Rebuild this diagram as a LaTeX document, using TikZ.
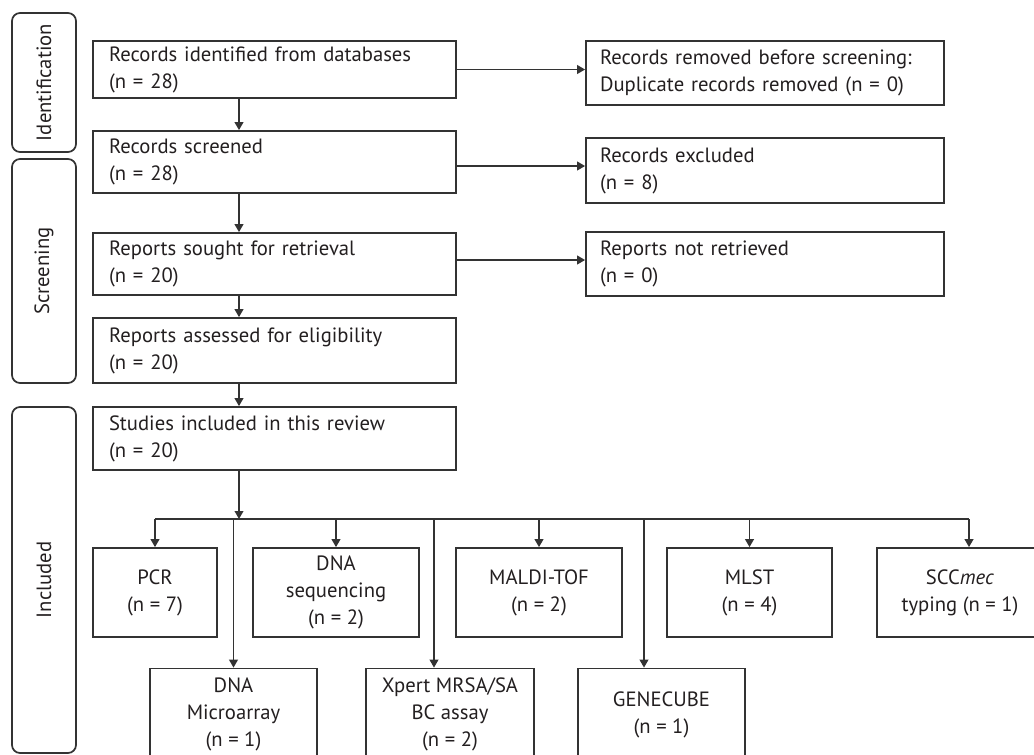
\documentclass[tikz,border=0pt]{standalone}
\usepackage{fontspec}
\setmainfont{PT Sans}
\definecolor{prismaline}{HTML}{333333}
\definecolor{prismatext}{HTML}{231F20}
\usetikzlibrary{arrows.meta}
\newdimen\pxu
\pxu=0.75pt
\tikzset{
    prismabox/.style={
        draw=prismaline,
        line width=1.3pt,
        text=prismatext,
        align=left,
        text width=331\pxu,
        inner xsep=16\pxu,
        inner ysep=0pt,
        font=\fontsize{15.5}{20.3}\selectfont
    },
    prismaexcluded/.style={
        prismabox,
        text width=330\pxu,
        inner xsep=14\pxu
    },
    prismamethod/.style={
        draw=prismaline,
        line width=1.3pt,
        text=prismatext,
        align=center,
        inner sep=0pt,
        minimum height=89\pxu,
        font=\fontsize{15.5}{20.3}\selectfont
    },
    prismaphase/.style={
        draw=prismaline,
        line width=1.3pt,
        text=prismatext,
        rounded corners=8\pxu,
        rotate=90,
        inner sep=0pt,
        minimum height=64\pxu,
        font=\fontsize{15.5}{20.3}\selectfont
    },
    prismaarrow/.style={
        -{Triangle[length=6pt,width=6.5pt]},
        draw=prismaline,
        line width=1.3pt
    },
    prismaline/.style={
        draw=prismaline,
        line width=1.3pt
    }
}
\begin{document}
\begin{tikzpicture}[x=0.75pt,y=-0.75pt]
        \useasboundingbox (0,0) rectangle (1034,754);
        \clip (0,0) rectangle (1034,754);

        % phases
        \node[prismaphase, minimum width=139\pxu] (identification) at (44,82.5) {Identification};
        \node[prismaphase, minimum width=224\pxu] (screening) at (44,271) {Screening};
        \node[prismaphase, minimum width=346\pxu] (inclusion) at (44,580) {Included};

        % main flow
        \node[prismabox, minimum height=57\pxu] (identified) at (274.5,69.5)
            {Records identified from databases\\(n = 28)};
        \node[prismabox, minimum height=62\pxu] (screened) at (274.5,162)
            {Records screened\\(n = 28)};
        \node[prismabox, minimum height=62\pxu] (sought) at (274.5,264)
            {Reports sought for retrieval\\(n = 20)};
        \node[prismabox, minimum height=65\pxu] (assessed) at (274.5,350.5)
            {Reports assessed for eligibility\\(n = 20)};
        \node[prismabox, minimum height=63\pxu] (included) at (274.5,438.5)
            {Studies included in this review\\(n = 20)};

        % removed records
        \node[prismaexcluded, minimum height=64\pxu] (removed) at (765,73)
            {Records removed before screening:\\Duplicate records removed (n = 0)};
        \node[prismaexcluded, minimum height=65\pxu] (excluded) at (765,170.5)
            {Records excluded\\(n = 8)};
        \node[prismaexcluded, minimum height=64\pxu] (notretrieved) at (765,264)
            {Reports not retrieved\\(n = 0)};

        % methods
        \node[prismamethod, minimum width=124\pxu] (pcr) at (155,592.5) {PCR\\(n = 7)};
        \node[prismamethod, minimum width=166\pxu] (dnaseq) at (336,592.5) {DNA\\sequencing\\(n = 2)};
        \node[prismamethod, minimum width=166\pxu] (maldi) at (539,592.5) {MALDI-TOF\\(n = 2)};
        \node[prismamethod, minimum width=165\pxu] (mlst) at (749.5,592.5) {MLST\\(n = 4)};
        \node[prismamethod, minimum width=166\pxu] (sccmec) at (960,592.5) {SCC\textit{mec}\\typing (n = 1)};
        \node[prismamethod, minimum width=167\pxu, minimum height=92\pxu] (microarray) at (233.5,714.5)
            {DNA\\Microarray\\(n = 1)};
        \node[prismamethod, minimum width=168\pxu, minimum height=92\pxu] (xpert) at (450,714.5)
            {Xpert MRSA/SA\\BC assay\\(n = 2)};
        \node[prismamethod, minimum width=167\pxu, minimum height=92\pxu] (genecube) at (661.5,714.5)
            {GENECUBE\\(n = 1)};

        \coordinate (spine) at (239,0);
        \coordinate (bus) at (0,519);
        \coordinate (sccdrop) at ([xshift=9\pxu]sccmec.north);
        \coordinate (xpertdrop) at ([xshift=-16\pxu]xpert.north);
        \coordinate (genedrop) at ([xshift=-17.5\pxu]genecube.north);

        \draw[prismaarrow] (identified.south -| spine) -- (screened.north -| spine);
        \draw[prismaarrow] (screened.south -| spine) -- (sought.north -| spine);
        \draw[prismaarrow] (sought.south -| spine) -- (assessed.north -| spine);
        \draw[prismaarrow] (assessed.south -| spine) -- (included.north -| spine);
        \draw[prismaarrow] (included.south -| spine) -- (bus -| spine);

        \draw[prismaarrow] (identified.east) -- (identified.east -| removed.west);
        \draw[prismaarrow] ([yshift=-4\pxu]screened.east) -- ([yshift=-4\pxu]screened.east -| excluded.west);
        \draw[prismaarrow] ([yshift=4\pxu]sought.east) -- ([yshift=4\pxu]sought.east -| notretrieved.west);

        \draw[prismaline] (pcr.north |- bus) -- (sccdrop |- bus);
        \foreach \m in {pcr.north, dnaseq.north, maldi.north, mlst.north, sccdrop,
                        microarray.north, xpertdrop, genedrop}
            \draw[prismaarrow] (\m |- bus) -- (\m);
\end{tikzpicture}
\end{document}
